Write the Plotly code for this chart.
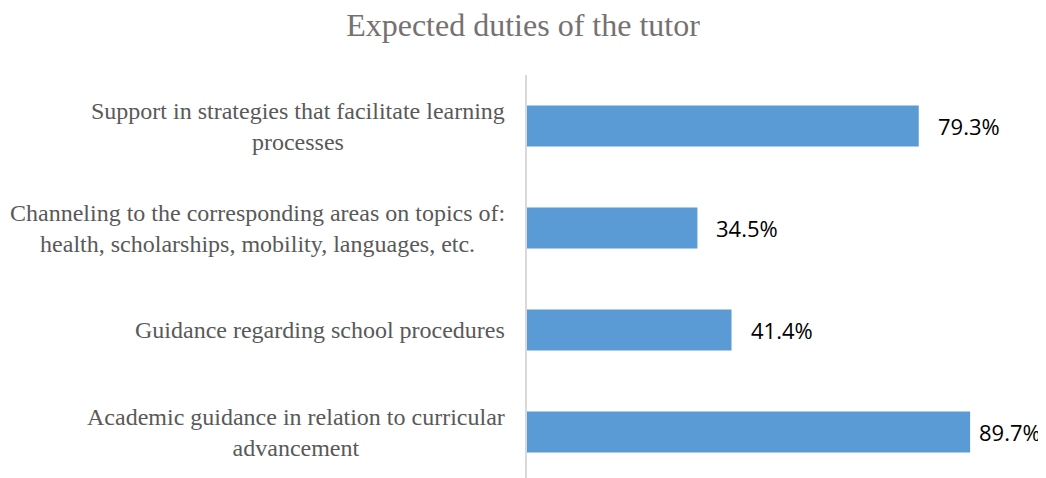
import plotly.graph_objects as go

categories = [
    "Academic guidance in relation to curricular<br>advancement",
    "Guidance regarding school procedures",
    "Channeling to the corresponding areas on topics of:<br>health, scholarships, mobility, languages, etc.",
    "Support in strategies that facilitate learning<br>processes",
]
values = [89.7, 41.4, 34.5, 79.3]
value_labels = ["89.7%", "41.4%", "34.5%", "79.3%"]
title_text = "Expected duties of the tutor"

label_shift = [7, 17, 17, 17]

# page body has an 8px default margin; figure sized to compensate
W, H = 1038, 470

fig = go.Figure()
fig.add_trace(go.Bar(
    y=categories,
    x=values,
    orientation="h",
    width=0.4,
    marker=dict(color="#5B9BD5", line=dict(width=0)),
    hoverinfo="skip",
))

for c, v, t, s in zip(categories, values, value_labels, label_shift):
    fig.add_annotation(
        x=v, y=c, text=t, showarrow=False,
        xanchor="left", yanchor="middle", xshift=s,
        font=dict(family="Open Sans", size=22, color="#000000"),
    )

for c in categories:
    fig.add_annotation(
        x=0, xref="paper", y=c, yref="y", text=c, showarrow=False,
        xanchor="right", yanchor="middle", align="center", xshift=-20,
        font=dict(family="Liberation Serif", size=24, color="#595959"),
    )

fig.update_layout(
    width=W, height=H,
    margin=dict(l=519, r=25, t=67, b=0, autoexpand=False),
    paper_bgcolor="white", plot_bgcolor="white",
    showlegend=False,
    title=dict(
        text=title_text, x=515 / W, xref="container", xanchor="center",
        y=1 - 17 / H, yref="container", yanchor="middle",
        font=dict(family="Liberation Serif", size=32, color="#767171"),
    ),
    xaxis=dict(range=[0, 100], visible=False, showgrid=False, zeroline=False,
               automargin=False),
    yaxis=dict(
        type="category",
        categoryorder="array", categoryarray=categories,
        range=[-0.451, 3.5],
        showline=True, linecolor="#D9D9D9", linewidth=1.5,
        ticks="", showgrid=False, zeroline=False,
        showticklabels=False, automargin=False,
    ),
)

fig.write_html("out.html")
